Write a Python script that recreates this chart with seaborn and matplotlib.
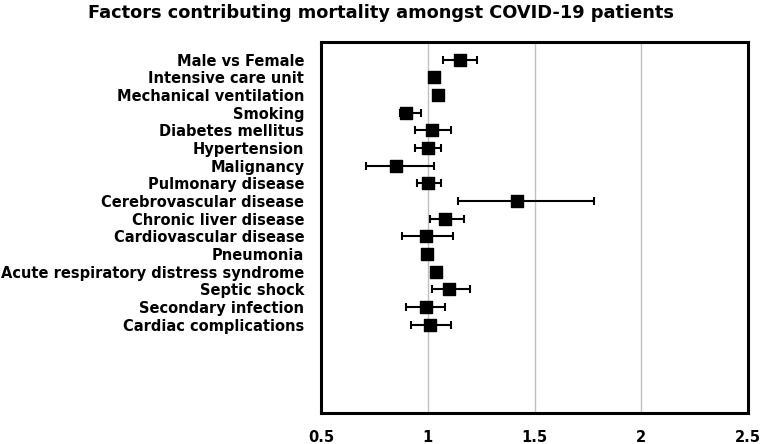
import numpy as np
import pandas as pd
import matplotlib
matplotlib.use("Agg")
import matplotlib.pyplot as plt
import seaborn as sns

factors = ["Male vs Female", "Intensive care unit", "Mechanical ventilation", "Smoking",
           "Diabetes mellitus", "Hypertension", "Malignancy", "Pulmonary disease",
           "Cerebrovascular disease", "Chronic liver disease", "Cardiovascular disease",
           "Pneumonia", "Acute respiratory distress syndrome", "Septic shock",
           "Secondary infection", "Cardiac complications"]
estimate = [1.15, 1.03, 1.05, 0.90, 1.02, 1.00, 0.85, 1.00, 1.42, 1.08, 0.99, 0.995, 1.04, 1.10, 0.99, 1.01]
lower = [1.07, 1.02, 1.04, 0.87, 0.94, 0.94, 0.71, 0.95, 1.14, 1.01, 0.88, 0.98, 1.03, 1.02, 0.90, 0.92]
upper = [1.23, 1.04, 1.06, 0.97, 1.11, 1.06, 1.03, 1.06, 1.78, 1.17, 1.12, 1.01, 1.05, 1.20, 1.08, 1.11]

df = pd.DataFrame({"factor": factors, "est": estimate, "lo": lower, "hi": upper})

sns.set_style("white")
plt.rcParams["font.family"] = ["DejaVu Sans"]
plt.rcParams["text.color"] = "black"
plt.rcParams["xtick.color"] = "black"
plt.rcParams["ytick.color"] = "black"

fig = plt.figure(figsize=(7.62, 4.44), dpi=100)
ax = fig.add_axes([0.4213, 0.0698, 0.5603, 0.8356])

ax.errorbar(df["est"], df["factor"],
            xerr=[df["est"] - df["lo"], df["hi"] - df["est"]],
            fmt="none", ecolor="black", elinewidth=1.5, capsize=3, capthick=1.5, zorder=2)
sns.scatterplot(data=df, x="est", y="factor", marker="s", s=65, color="black",
                edgecolor="black", linewidth=1, ax=ax, zorder=3)

ax.set_xlim(0.5, 2.5)
ax.set_ylim(20, -1)
ax.set_xticks([0.5, 1, 1.5, 2, 2.5])
ax.set_xticklabels(["0.5", "1", "1.5", "2", "2.5"])
ax.xaxis.grid(True, color="#c0c0c0", linewidth=1)
ax.yaxis.grid(False)
ax.set_axisbelow(True)
ax.set_xlabel("")
ax.set_ylabel("")
ax.tick_params(axis="x", length=0, pad=12, labelsize=10.5, labelcolor="black")
ax.tick_params(axis="y", length=0, pad=12, labelsize=10.5, labelcolor="black")
for lab in ax.get_xticklabels() + ax.get_yticklabels():
    lab.set_fontweight("bold")
for sp in ax.spines.values():
    sp.set_color("black")
    sp.set_linewidth(2.2)

fig.suptitle("Factors contributing mortality amongst COVID-19 patients",
             x=0.5, y=0.99, fontsize=12.8, fontweight="bold", color="black")

fig.savefig("out.png", dpi=100)
